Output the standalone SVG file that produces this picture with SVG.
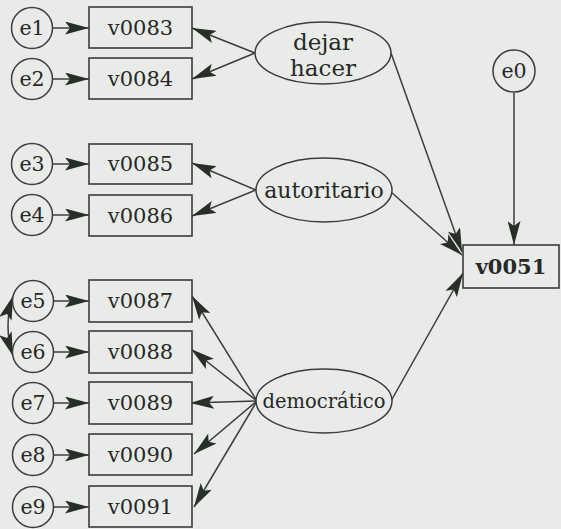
<svg xmlns="http://www.w3.org/2000/svg" width="561" height="529" viewBox="0 0 561 529">
<defs>
<marker id="ah" viewBox="0 0 24 13" refX="24" refY="6.5" markerWidth="24" markerHeight="13" markerUnits="userSpaceOnUse" orient="auto-start-reverse">
<path d="M0,0 L24,6.5 L0,13 L5,6.5 z" fill="#263026"/>
</marker>
</defs>
<style>
.bg{fill:#e9ebe9}
.box{fill:#e9ebe9;stroke:#3a3d3a;stroke-width:1.6}
.circ{fill:#e9ebe9;stroke:#3a3d3a;stroke-width:1.5}
.ell{fill:#e9ebe9;stroke:#3a3d3a;stroke-width:1.5}
.t{font-family:"DejaVu Serif","Liberation Serif",serif;fill:#262926;text-anchor:middle}
.bt{font-size:21px}
.et{font-size:20.5px}
.c{fill:none;stroke:#3a3d3a;stroke-width:1.5;marker-end:url(#ah)}
</style>
<rect class="bg" x="0" y="0" width="561" height="529"/>
<g id="connectors">
<line class="c" x1="52" y1="28" x2="89" y2="28"/>
<line class="c" x1="52" y1="79" x2="89" y2="79"/>
<line class="c" x1="52" y1="164" x2="89" y2="164"/>
<line class="c" x1="52" y1="215" x2="89" y2="215"/>
<line class="c" x1="53" y1="301" x2="89" y2="301"/>
<line class="c" x1="53" y1="352" x2="89" y2="352"/>
<line class="c" x1="53" y1="403" x2="89" y2="403"/>
<line class="c" x1="53" y1="455" x2="89" y2="455"/>
<line class="c" x1="53" y1="507" x2="89" y2="507"/>
<line class="c" x1="255" y1="53" x2="192" y2="28"/>
<line class="c" x1="255" y1="53" x2="192" y2="79"/>
<line class="c" x1="256" y1="190" x2="192" y2="163"/>
<line class="c" x1="256" y1="190" x2="192" y2="216"/>
<line class="c" x1="257" y1="401" x2="192" y2="296"/>
<line class="c" x1="257" y1="401" x2="191" y2="349"/>
<line class="c" x1="257" y1="401" x2="190" y2="403"/>
<line class="c" x1="257" y1="401" x2="194" y2="454"/>
<line class="c" x1="257" y1="401" x2="194" y2="507"/>
<line class="c" x1="391" y1="53" x2="462" y2="252"/>
<line class="c" x1="391" y1="192" x2="462" y2="255"/>
<line class="c" x1="391" y1="401" x2="463" y2="273"/>
<line class="c" x1="514" y1="93" x2="514" y2="245"/>
<path class="c" d="M13,296 Q3,326 13,356" style="marker-start:url(#ah)"/>
</g>
<g id="e1"><circle class="circ" cx="32" cy="28" r="20.5"/><text class="t et" x="32" y="35">e1</text></g>
<g id="e2"><circle class="circ" cx="32" cy="79" r="20.5"/><text class="t et" x="32" y="86">e2</text></g>
<g id="e3"><circle class="circ" cx="32" cy="164" r="20.5"/><text class="t et" x="32" y="171">e3</text></g>
<g id="e4"><circle class="circ" cx="32" cy="215" r="20.5"/><text class="t et" x="32" y="222">e4</text></g>
<g id="e5"><circle class="circ" cx="33" cy="301" r="20.5"/><text class="t et" x="33" y="308">e5</text></g>
<g id="e6"><circle class="circ" cx="33" cy="352" r="20.5"/><text class="t et" x="33" y="359">e6</text></g>
<g id="e7"><circle class="circ" cx="33" cy="403" r="20.5"/><text class="t et" x="33" y="410">e7</text></g>
<g id="e8"><circle class="circ" cx="33" cy="455" r="20.5"/><text class="t et" x="33" y="462">e8</text></g>
<g id="e9"><circle class="circ" cx="33" cy="507" r="20.5"/><text class="t et" x="33" y="514">e9</text></g>
<g id="e0"><circle class="circ" cx="514" cy="71" r="21"/><text class="t et" x="514" y="78">e0</text></g>
<g id="v0083"><rect class="box" x="89" y="7" width="103" height="41"/><text class="t bt" x="140.5" y="35">v0083</text></g>
<g id="v0084"><rect class="box" x="89" y="58" width="103" height="41"/><text class="t bt" x="140.5" y="86">v0084</text></g>
<g id="v0085"><rect class="box" x="89" y="144" width="103" height="40"/><text class="t bt" x="140.5" y="171">v0085</text></g>
<g id="v0086"><rect class="box" x="89" y="195" width="103" height="41"/><text class="t bt" x="140.5" y="223">v0086</text></g>
<g id="v0087"><rect class="box" x="89" y="280" width="103" height="42"/><text class="t bt" x="140.5" y="308">v0087</text></g>
<g id="v0088"><rect class="box" x="89" y="331" width="103" height="42"/><text class="t bt" x="140.5" y="359">v0088</text></g>
<g id="v0089"><rect class="box" x="89" y="382" width="103" height="42"/><text class="t bt" x="140.5" y="410">v0089</text></g>
<g id="v0090"><rect class="box" x="89" y="434" width="103" height="41"/><text class="t bt" x="140.5" y="462">v0090</text></g>
<g id="v0091"><rect class="box" x="89" y="486" width="103" height="41"/><text class="t bt" x="140.5" y="514">v0091</text></g>
<g id="v0051"><rect class="box" x="463" y="245" width="96" height="43"/><text class="t" x="511" y="274" style="font-size:21px;font-weight:bold">v0051</text></g>
<g id="dejar_hacer"><ellipse class="ell" cx="323" cy="53" rx="68" ry="31"/><text class="t" x="323" y="50" style="font-size:23px">dejar</text><text class="t" x="323" y="76" style="font-size:23px">hacer</text></g>
<g id="autoritario"><ellipse class="ell" cx="324" cy="190" rx="68" ry="32"/><text class="t" x="324" y="198" style="font-size:22px">autoritario</text></g>
<g id="democratico"><ellipse class="ell" cx="324" cy="401" rx="68" ry="32"/><text class="t" x="324" y="408" style="font-size:19.5px">democrático</text></g>
</svg>
